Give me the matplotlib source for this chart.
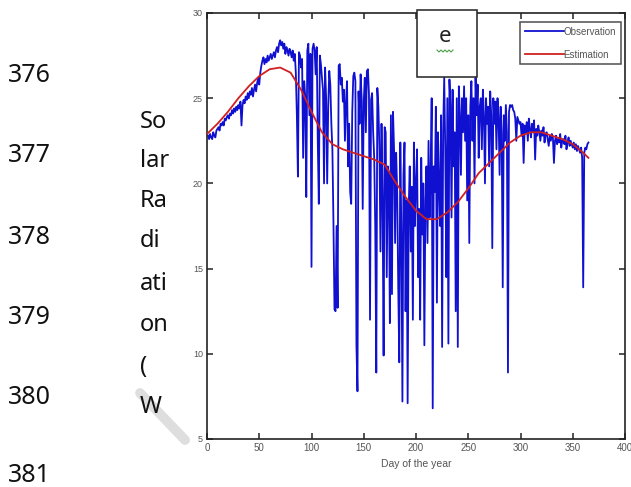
import matplotlib
matplotlib.use("Agg")
import matplotlib.pyplot as plt
from matplotlib.patches import Rectangle
from matplotlib.lines import Line2D

# ---------------- data ----------------
observation = [
    22.8, 22.6, 22.9, 22.7, 22.6, 23.0, 22.8, 22.7, 23.1, 23.2,
    23.3, 23.1, 23.5, 23.4, 23.6, 23.4, 23.8, 23.7, 23.9, 24.0,
    23.8, 24.1, 24.0, 24.3, 24.1, 24.4, 24.2, 24.5, 24.3, 24.6,
    24.4, 24.8, 23.4, 24.6, 24.9, 24.7, 25.1, 24.9, 25.3, 25.0,
    25.4, 25.2, 25.6, 25.1, 25.5, 25.8, 25.4, 25.9, 26.2, 25.8,
    26.5, 26.9, 27.2, 27.4, 27.0, 27.3, 27.1, 27.5, 27.2, 27.4,
    27.6, 27.3, 27.5, 27.7, 27.4, 27.8, 28.0, 27.7, 28.2, 28.4,
    28.1, 28.3, 27.9, 28.2, 27.6, 28.0, 27.8, 27.5, 27.9, 27.7,
    27.4, 27.8, 27.2, 27.6, 26.5, 24.0, 20.4, 27.7, 27.5, 26.8,
    27.3, 21.5, 26.0, 25.1, 19.2, 27.8, 28.2, 24.0, 27.6, 15.1,
    27.9, 28.2, 27.8, 26.4, 28.0, 22.5, 18.8, 27.5, 27.0, 26.2,
    25.5, 20.0, 26.8, 25.0, 20.0, 24.5, 26.6, 25.8, 23.5, 22.0,
    17.7, 12.6, 12.5, 17.5, 12.7, 26.9, 27.0, 25.8, 26.2, 24.8,
    25.5, 22.5, 24.8, 26.0, 21.0, 23.5, 19.5, 18.8, 24.2, 26.3,
    26.5, 26.0, 10.5, 7.8, 25.4, 23.5, 26.4, 25.0, 18.5, 24.8,
    26.2, 23.0, 26.6, 26.7, 25.2, 12.0, 24.9, 25.3, 23.0, 21.5,
    17.5, 8.9, 25.6, 24.5, 22.0, 16.0, 23.5, 19.0, 9.9, 23.3,
    23.0, 14.5, 21.0, 20.5, 11.8, 24.0, 13.5, 24.2, 22.0, 16.5,
    21.8, 19.5, 14.0, 9.5, 22.4, 17.0, 7.2, 20.5, 22.4, 12.5,
    19.0, 7.1, 18.5, 21.0, 16.0, 19.8, 12.0, 22.4, 17.5, 20.0,
    22.0, 14.5, 18.5, 12.0, 21.5, 17.0, 20.0, 10.5, 19.0, 21.0,
    16.5, 22.5, 18.0, 20.5, 25.0, 6.8, 21.0, 19.5, 24.5, 13.0,
    23.0, 20.0, 17.5, 24.0, 10.4, 23.1, 26.2, 22.0, 14.5, 25.0,
    10.6, 26.1, 24.5, 18.0, 25.5, 21.0, 23.0, 12.5, 25.0, 10.4,
    25.7, 24.0, 20.5, 25.0, 23.0, 25.7, 22.5, 25.0, 19.0, 24.0,
    16.5, 24.5, 26.0, 22.5, 25.0, 20.0, 26.2, 24.0, 25.8, 21.5,
    24.5, 25.0, 22.0, 25.5, 24.0, 20.0, 25.0, 23.5, 24.5, 21.0,
    25.4, 24.0, 16.2, 25.0, 23.5, 24.8, 22.0, 25.0, 24.0, 20.5,
    24.5, 23.0, 13.9, 24.0, 22.5, 24.6, 23.0, 8.9, 24.2, 24.6,
    24.5, 24.6, 24.3, 24.2, 23.8, 22.5, 23.9, 23.7, 23.5, 23.6,
    22.8, 23.5, 21.2, 23.4, 23.0, 23.6, 22.5, 23.8, 23.2, 22.7,
    23.5, 23.0, 23.7, 21.4, 23.2, 22.8, 23.4, 23.0, 22.5, 23.1,
    22.8, 23.3, 22.4, 22.9, 23.0, 22.6, 22.2, 22.8, 22.5, 22.9,
    22.7, 21.2, 22.5, 22.8, 22.3, 22.6, 22.4, 22.9, 22.1, 22.5,
    22.6, 22.3, 22.8, 22.0, 22.4, 22.7, 22.2, 22.5, 22.3, 22.1,
    22.4, 22.0, 22.3, 21.9, 22.2, 22.0, 21.8, 22.1, 21.5, 13.9,
    21.8, 22.1, 22.0, 22.3, 22.4,
]
obs_days = list(range(1, len(observation) + 1))

est_days = [0, 10, 20, 30, 40, 50, 60, 70, 80, 90, 100, 110, 120, 130, 140,
            150, 160, 170, 180, 190, 200, 210, 220, 230, 240, 250, 260, 270,
            280, 290, 300, 310, 320, 330, 340, 350, 360, 365]
estimation = [22.9, 23.5, 24.2, 25.0, 25.7, 26.3, 26.7, 26.8, 26.5, 25.5,
              24.2, 23.0, 22.3, 22.0, 21.8, 21.6, 21.4, 21.1, 20.1, 19.2,
              18.4, 17.9, 17.9, 18.3, 18.9, 19.7, 20.6, 21.2, 21.8, 22.4,
              22.8, 23.0, 23.0, 22.8, 22.6, 22.3, 21.8, 21.5]

x_ticks = [0, 50, 100, 150, 200, 250, 300, 350, 400]
y_ticks = [5, 10, 15, 20, 25, 30]
line_numbers = ["376", "377", "378", "379", "380", "381"]
ylabel_parts = ["So", "lar", "Ra", "di", "ati", "on", "(", "W"]

# ---------------- figure ----------------
W, H = 631, 487
fig = plt.figure(figsize=(W / 100, H / 100), dpi=100)
fig.patch.set_facecolor("white")

def fx(px):
    return px / W

def fy(py):
    return 1 - py / H

ax = fig.add_axes([fx(207), fy(439), fx(625) - fx(207), fy(13) - fy(439)])
ax.plot(obs_days, observation, color="#1010d0", lw=1.3, label="Observation", zorder=2)
ax.plot(est_days, estimation, color="#d02020", lw=1.3, label="Estimation", zorder=3)

ax.set_xlim(0, 400)
ax.set_ylim(5, 30)
ax.set_xticks(x_ticks)
ax.set_yticks(y_ticks)
ax.set_xticklabels([str(t) for t in x_ticks], fontsize=7, color="#555555",
                   family="Liberation Sans")
ax.set_yticklabels([str(t) for t in y_ticks], fontsize=6.5, color="#555555",
                   family="Liberation Sans")
ax.tick_params(direction="in", length=4, width=1.1, top=True, right=True,
               pad=3, colors="#222222", labelcolor="#555555")
for s in ax.spines.values():
    s.set_linewidth(1.2)
    s.set_color("#222222")
ax.set_xlabel("Day of the year", fontsize=7.5, color="#555555",
              family="Liberation Sans", labelpad=4)

leg = ax.legend(loc="upper right", bbox_to_anchor=(fx(621), fy(22)),
                bbox_transform=fig.transFigure, borderaxespad=0,
                frameon=True, fancybox=False, handlelength=4.0,
                handletextpad=0.0, labelspacing=1.3, borderpad=0.5,
                labelcolor="#555555", prop={"family": "Liberation Sans", "size": 7})
leg.get_frame().set_edgecolor("#222222")
leg.get_frame().set_linewidth(1.1)

# "e" panel box
fig.add_artist(Rectangle((fx(417), fy(77)), fx(477) - fx(417), fy(10) - fy(77),
                         transform=fig.transFigure, facecolor="white",
                         edgecolor="#222222", lw=1.1, zorder=5))
fig.text(fx(445), fy(37), "e", fontsize=16, family="Noto Sans", color="#222222",
         ha="center", va="center", zorder=6)
# green spell-check squiggle under the "e"
sq_x = [437, 439, 441, 443, 445, 447, 449, 451, 453]
sq_y = [50, 52, 50, 52, 50, 52, 50, 52, 50]
fig.add_artist(Line2D([fx(v) for v in sq_x], [fy(v) for v in sq_y],
                      transform=fig.transFigure, color="#4aa04a", lw=0.8, zorder=6))

# page line numbers
line_y = [75, 155, 237, 318, 397, 475]
for txt, yy in zip(line_numbers, line_y):
    fig.text(fx(8), fy(yy), txt, fontsize=18, family="Noto Sans",
             color="#111111", ha="left", va="center")

# broken y-axis label
part_y = [122, 161, 201, 241, 284, 325, 367, 407]
for txt, yy in zip(ylabel_parts, part_y):
    fig.text(fx(140), fy(yy), txt, fontsize=17, family="Noto Sans",
             color="#111111", ha="left", va="center")

# grey scan artefact
fig.add_artist(Line2D([fx(140), fx(185)], [fy(393), fy(440)],
                      transform=fig.transFigure, color="#dedede", lw=7,
                      solid_capstyle="round", zorder=0))

fig.savefig("out.png", dpi=100, facecolor="white")
